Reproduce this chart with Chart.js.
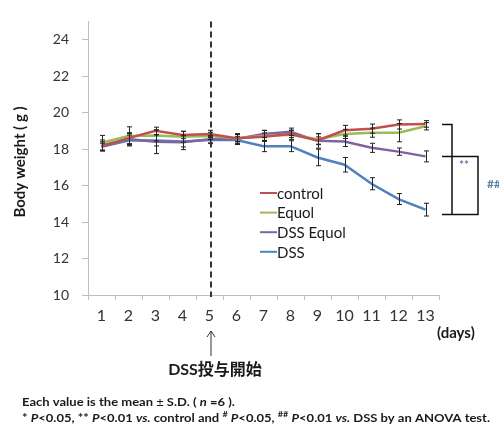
<!DOCTYPE html>
<html>
<head>
<meta charset="utf-8">
<script src="https://cdn.jsdelivr.net/npm/chart.js@4.4.1/dist/chart.umd.min.js"></script>
<style>
html,body{margin:0;padding:0;background:#fff;}
#wrap{width:499px;height:427px;position:relative;}
</style>
</head>
<body>
<div id="wrap"><canvas id="c" width="499" height="427"></canvas></div>
<script>
const days = ['1','2','3','4','5','6','7','8','9','10','11','12','13'];
const seriesNames = ['control','Equol','DSS Equol','DSS'];
const control  = [18.15, 18.6, 19.0, 18.77, 18.83, 18.6, 18.68, 18.83, 18.47, 19.03, 19.12, 19.35, 19.38];
const equol    = [18.35, 18.72, 18.75, 18.68, 18.72, 18.6, 18.72, 18.78, 18.54, 18.83, 18.9, 18.9, 19.25];
const dssEquol = [18.2, 18.55, 18.4, 18.37, 18.54, 18.55, 18.83, 18.95, 18.45, 18.42, 18.07, 17.86, 17.6];
const dss      = [18.12, 18.47, 18.47, 18.42, 18.5, 18.5, 18.16, 18.16, 17.54, 17.14, 16.1, 15.26, 14.68];
const controlSD  = [0.25, 0.3, 0.2, 0.2, 0.2, 0.2, 0.2, 0.2, 0.2, 0.27, 0.25, 0.25, 0.18];
const equolSD    = [0.4, 0.5, 0.3, 0.3, 0.2, 0.2, 0.3, 0.25, 0.3, 0.25, 0.25, 0.5, 0.2];
const dssEquolSD = [0.3, 0.3, 0.65, 0.4, 0.2, 0.3, 0.2, 0.2, 0.4, 0.28, 0.25, 0.2, 0.3];
const dssSD      = [0.2, 0.3, 0.3, 0.3, 0.2, 0.2, 0.3, 0.3, 0.45, 0.4, 0.33, 0.3, 0.35];
const yTicks = [10, 12, 14, 16, 18, 20, 22, 24];
const dssStartDay = '5';
const bracketValues = [19.4, 17.6, 14.42]; // control, DSS Equol, DSS ends
const colors = ['#C0504D', '#9BBB59', '#8064A2', '#4F81BD'];
const values = [control, equol, dssEquol, dss];
const sds = [controlSD, equolSD, dssEquolSD, dssSD];

const FONT = 'Lato, "Liberation Sans", sans-serif';
const CJK = 'Lato, "Noto Sans CJK JP", sans-serif';

function segFont(s, size) {
  return (s.italic ? 'italic ' : '') + (s.bold === false ? '' : 'bold ') + (s.sup ? size * 0.7 : size) + 'px ' + FONT;
}
function drawRich(ctx, x, y, segs, size, scale) {
  ctx.save();
  ctx.translate(x, y);
  ctx.scale(scale, 1);
  let cx = 0;
  for (const s of segs) {
    ctx.font = segFont(s, size);
    ctx.fillText(s.t, cx, s.sup ? -size * 0.35 : 0);
    cx += ctx.measureText(s.t).width;
  }
  ctx.restore();
  return cx;
}
function richWidth(ctx, segs, size) {
  let w = 0;
  for (const s of segs) {
    ctx.font = segFont(s, size);
    w += ctx.measureText(s.t).width;
  }
  return w;
}

const extras = {
  id: 'extras',
  afterDatasetsDraw(chart) {
    const ctx = chart.ctx;
    const xs = chart.scales.x, ys = chart.scales.y;
    const area = chart.chartArea;
    // error bars
    ctx.save();
    ctx.strokeStyle = '#222';
    ctx.lineWidth = 1;
    values.forEach((arr, si) => {
      arr.forEach((v, i) => {
        const x = Math.round(xs.getPixelForValue(i)) + 0.5;
        const y1 = ys.getPixelForValue(v + sds[si][i]);
        const y2 = ys.getPixelForValue(v - sds[si][i]);
        ctx.beginPath();
        ctx.moveTo(x, y1); ctx.lineTo(x, y2);
        ctx.moveTo(x - 2.5, y1); ctx.lineTo(x + 2.5, y1);
        ctx.moveTo(x - 2.5, y2); ctx.lineTo(x + 2.5, y2);
        ctx.stroke();
      });
    });
    ctx.restore();

    // dashed line at DSS start
    const dx = xs.getPixelForValue(days.indexOf(dssStartDay)) + 1.5;
    ctx.save();
    ctx.strokeStyle = '#333';
    ctx.lineWidth = 2;
    ctx.setLineDash([6, 4]);
    ctx.beginPath();
    ctx.moveTo(dx, area.top);
    ctx.lineTo(dx, area.bottom + 2);
    ctx.stroke();
    ctx.restore();

    // legend
    ctx.save();
    const lx = 260, ly0 = 193, lstep = 19.6;
    seriesNames.forEach((n, i) => {
      const y = ly0 + i * lstep;
      ctx.strokeStyle = colors[i];
      ctx.lineWidth = 2;
      ctx.beginPath();
      ctx.moveTo(lx, y); ctx.lineTo(lx + 17, y);
      ctx.stroke();
      ctx.fillStyle = '#1a1a1a';
      ctx.font = '15px ' + FONT;
      ctx.textBaseline = 'middle';
      ctx.fillText(n, lx + 17, y + 1);
    });
    ctx.restore();

    // brackets
    const [bt, bm, bb] = bracketValues.map(v => Math.round(ys.getPixelForValue(v)) + 0.5);
    ctx.save();
    ctx.strokeStyle = '#111';
    ctx.lineWidth = 1.5;
    ctx.beginPath();
    ctx.moveTo(442, bt); ctx.lineTo(452, bt); ctx.lineTo(452, bb);
    ctx.moveTo(442, bb); ctx.lineTo(478, bb); ctx.lineTo(478, bm); ctx.lineTo(442, bm);
    ctx.stroke();
    ctx.fillStyle = '#5b7fa6';
    ctx.font = 'bold 12px ' + FONT;
    ctx.textAlign = 'center';
    ctx.textBaseline = 'middle';
    ctx.fillText('**', 464, 165);
    ctx.textAlign = 'left';
    ctx.fillText('##', 487, 184);
    ctx.restore();

    // y-axis title
    ctx.save();
    ctx.translate(20, 162);
    ctx.rotate(-Math.PI / 2);
    ctx.fillStyle = '#1a1a1a';
    ctx.font = 'bold 15px ' + FONT;
    ctx.textAlign = 'center';
    ctx.textBaseline = 'middle';
    ctx.fillText('Body weight ( g )', 0, 0);
    ctx.restore();

    // (days)
    ctx.save();
    ctx.fillStyle = '#1a1a1a';
    ctx.font = 'bold 15px ' + FONT;
    ctx.textBaseline = 'middle';
    ctx.fillText('(days)', 437, 333);
    // arrow
    const ax = dx;
    ctx.strokeStyle = '#333';
    ctx.lineWidth = 1;
    ctx.beginPath();
    ctx.moveTo(ax, 356); ctx.lineTo(ax, 331);
    ctx.moveTo(ax - 4, 337); ctx.lineTo(ax, 331); ctx.lineTo(ax + 4, 337);
    ctx.stroke();
    // DSS投与開始
    ctx.font = 'bold 16px ' + CJK;
    ctx.textAlign = 'center';
    ctx.fillText('DSS投与開始', 215, 370);
    ctx.restore();

    // footnotes
    ctx.save();
    ctx.fillStyle = '#1a1a1a';
    ctx.textBaseline = 'middle';
    const size = 12;
    const line1 = [
      {t: 'Each value is the mean '},
      {t: '±', bold: false},
      {t: ' S.D. ( '},
      {t: 'n', italic: true},
      {t: ' =6 ).'}
    ];
    const line2 = [
      {t: '* '}, {t: 'P', italic: true}, {t: '<0.05, ** '}, {t: 'P', italic: true},
      {t: '<0.01 '}, {t: 'vs.', italic: true}, {t: ' control and '}, {t: '#', sup: true},
      {t: ' '}, {t: 'P', italic: true}, {t: '<0.05, '}, {t: '##', sup: true}, {t: ' '},
      {t: 'P', italic: true}, {t: '<0.01 '}, {t: 'vs.', italic: true},
      {t: ' DSS by an ANOVA test.'}
    ];
    const w2 = richWidth(ctx, line2, size);
    const sc = 468 / w2;
    drawRich(ctx, 22, 402, line1, size, sc);
    drawRich(ctx, 22, 418, line2, size, sc);
    ctx.restore();
  }
};

new Chart(document.getElementById('c'), {
  type: 'line',
  data: {
    labels: days,
    datasets: seriesNames.map((n, i) => ({
      label: n,
      data: values[i],
      borderColor: colors[i],
      backgroundColor: colors[i],
      borderWidth: 2.5,
      pointRadius: 0,
      tension: 0,
      fill: false
    }))
  },
  options: {
    responsive: false,
    devicePixelRatio: 1,
    animation: false,
    events: [],
    layout: {padding: {top: 10, right: 60, bottom: 0, left: 0}},
    plugins: {legend: {display: false}, tooltip: {enabled: false}, title: {display: false}},
    scales: {
      x: {
        type: 'category',
        offset: true,
        grid: {display: true, drawOnChartArea: false, drawTicks: true, tickLength: 5, offset: true, color: '#bfbfbf'},
        border: {color: '#bfbfbf', width: 1},
        ticks: {font: {family: FONT, size: 16}, color: '#333', padding: 6, maxRotation: 0, autoSkip: false},
        afterFit: s => { s.height = 132; }
      },
      y: {
        min: 10, max: 25,
        grid: {display: true, drawOnChartArea: false, drawTicks: true, tickLength: 6, color: '#bfbfbf'},
        border: {color: '#bfbfbf', width: 1},
        ticks: {stepSize: 2, font: {family: FONT, size: 14}, color: '#333', padding: 13},
        afterBuildTicks: s => { s.ticks = yTicks.map(v => ({value: v})); },
        afterFit: s => { s.width = 88; }
      }
    }
  },
  plugins: [extras]
});
</script>
</body>
</html>
